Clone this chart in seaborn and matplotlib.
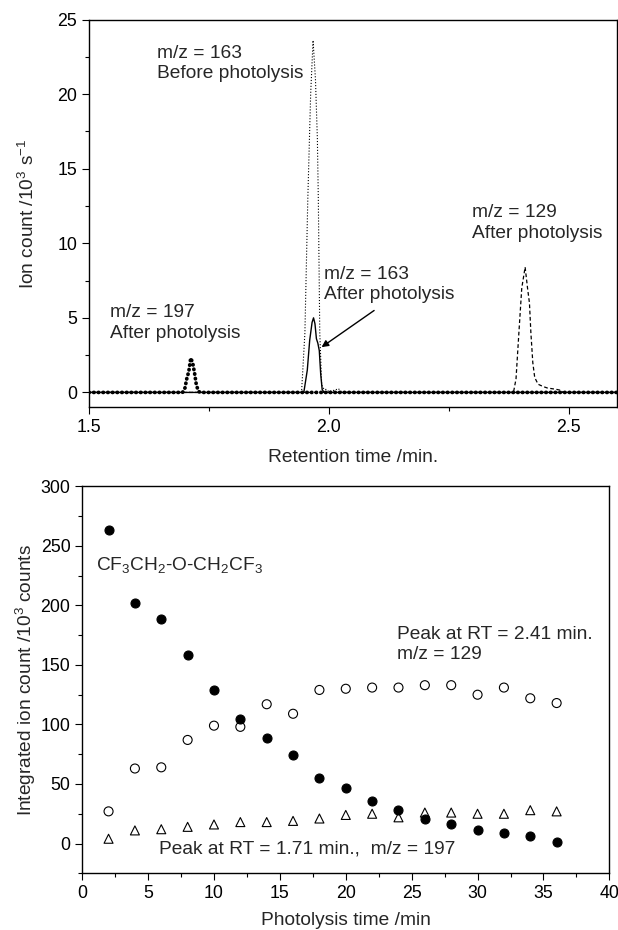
import matplotlib
matplotlib.use("Agg")
import matplotlib.pyplot as plt
from matplotlib.ticker import MultipleLocator
import seaborn as sns

# --- top panel: chromatogram traces (retention time / min, ion count / 10^3 s^-1)
rt_197 = [1.50, 1.695, 1.700, 1.704, 1.708, 1.712, 1.716, 1.720, 1.724, 1.729, 1.733, 2.60]
ion_197 = [0.0, 0.0, 0.3, 0.95, 1.4, 2.3, 2.0, 1.3, 0.45, 0.05, 0.0, 0.0]

rt_163_before = [1.50, 1.943, 1.950, 1.956, 1.962, 1.967, 1.972, 1.976, 1.978, 1.981, 1.985,
                 1.990, 1.995, 2.000, 2.005, 2.012, 2.020, 2.026, 2.030, 2.60]
ion_163_before = [0.0, 0.0, 4.0, 12.9, 20.0, 23.6, 21.0, 17.0, 12.9, 4.0, 0.5,
                  0.2, 0.2, 0.05, 0.1, 0.15, 0.25, 0.05, 0.0, 0.0]

rt_163_after = [1.50, 1.940, 1.948, 1.955, 1.960, 1.965, 1.968, 1.971, 1.974, 1.977, 1.980,
                1.983, 1.986, 1.990, 2.60]
ion_163_after = [0.0, 0.0, 0.05, 1.5, 3.5, 4.7, 5.0, 4.6, 3.6, 3.3, 2.8,
                 1.2, 0.2, 0.0, 0.0]

rt_129 = [1.50, 2.380, 2.385, 2.390, 2.396, 2.402, 2.409, 2.414, 2.418, 2.421, 2.425,
          2.429, 2.436, 2.446, 2.455, 2.465, 2.475, 2.482, 2.490, 2.60]
ion_129 = [0.0, 0.0, 0.05, 0.9, 4.0, 7.0, 8.4, 7.0, 6.0, 4.0, 2.0,
           1.0, 0.55, 0.4, 0.3, 0.25, 0.2, 0.15, 0.0, 0.0]

# --- bottom panel: integrated ion counts vs photolysis time
photolysis_min = [2, 4, 6, 8, 10, 12, 14, 16, 18, 20, 22, 24, 26, 28, 30, 32, 34, 36]
ether_counts = [263, 202, 189, 158, 129, 105, 89, 74, 55, 47, 36, 28, 21, 16, 11, 9, 6, 1]
peak_241_counts = [27, 63, 64, 87, 99, 98, 117, 109, 129, 130, 131, 131, 133, 133, 125, 131, 122, 118]
peak_171_counts = [4, 11, 12, 14, 16, 18, 18, 19, 21, 24, 25, 22, 26, 26, 25, 25, 28, 27]

sns.set_style("ticks")
plt.rcParams["font.family"] = ["Liberation Sans", "DejaVu Sans"]
plt.rcParams["mathtext.fontset"] = "custom"
plt.rcParams["mathtext.rm"] = "Liberation Sans"
plt.rcParams["mathtext.it"] = "Liberation Sans:italic"
plt.rcParams["axes.linewidth"] = 1.0
plt.rcParams["xtick.direction"] = "out"
plt.rcParams["ytick.direction"] = "out"

LABEL_FS = 13.8
TICK_FS = 12.8
NOTE_FS = 13.8

fig = plt.figure(figsize=(6.18, 9.3), dpi=100)
ax1 = fig.add_axes([0.144, 0.562, 0.854, 0.417])
ax2 = fig.add_axes([0.133, 0.061, 0.853, 0.416])

# top panel
sns.lineplot(x=rt_163_before, y=ion_163_before, ax=ax1, color="black", lw=0.8,
             linestyle=":", estimator=None, sort=False)
sns.lineplot(x=rt_129, y=ion_129, ax=ax1, color="black", lw=0.9,
             linestyle=(0, (3, 2)), estimator=None, sort=False)
sns.lineplot(x=rt_163_after, y=ion_163_after, ax=ax1, color="black", lw=1.0,
             estimator=None, sort=False)
sns.lineplot(x=rt_197, y=ion_197, ax=ax1, color="black", lw=2.7,
             linestyle=(0, (0.1, 1.15)), dash_capstyle="round", estimator=None, sort=False)

ax1.set_xlim(1.5, 2.6)
ax1.set_ylim(-1, 25)
ax1.xaxis.set_minor_locator(MultipleLocator(0.25))
ax1.yaxis.set_major_locator(MultipleLocator(5))
ax1.yaxis.set_minor_locator(MultipleLocator(2.5))
ax1.set_xticks([1.5, 2.0, 2.5])
ax1.set_xticklabels(["1.5", "2.0", "2.5"])
ax1.set_xlabel("Retention time /min.", fontsize=LABEL_FS, labelpad=9)
ax1.set_ylabel(r"Ion count /10$^3$ s$^{-1}$", fontsize=LABEL_FS, labelpad=14)

ax1.text(1.642, 23.3, "m/z = 163\nBefore photolysis", fontsize=NOTE_FS,
         va="top", ha="left", linespacing=1.25)
ax1.text(1.543, 5.9, "m/z = 197\nAfter photolysis", fontsize=NOTE_FS,
         va="top", ha="left", linespacing=1.25)
ax1.text(1.990, 8.5, "m/z = 163\nAfter photolysis", fontsize=NOTE_FS,
         va="top", ha="left", linespacing=1.25)
ax1.text(2.298, 12.6, "m/z = 129\nAfter photolysis", fontsize=NOTE_FS,
         va="top", ha="left", linespacing=1.25)
ax1.annotate("", xy=(1.980, 2.93), xytext=(2.099, 5.6),
             arrowprops=dict(arrowstyle="-|>", color="black", lw=1.0, mutation_scale=10))

# bottom panel
marker_kw = dict(s=42, edgecolor="black", linewidth=0.8, legend=False)
sns.scatterplot(x=photolysis_min, y=ether_counts, ax=ax2, marker="o",
                color="black", **marker_kw)
sns.scatterplot(x=photolysis_min, y=peak_241_counts, ax=ax2, marker="o",
                facecolor="none", **marker_kw)
sns.scatterplot(x=photolysis_min, y=peak_171_counts, ax=ax2, marker="^",
                facecolor="none", **marker_kw)

ax2.set_xlim(0, 40)
ax2.set_ylim(-25, 300)
ax2.xaxis.set_major_locator(MultipleLocator(5))
ax2.xaxis.set_minor_locator(MultipleLocator(2.5))
ax2.yaxis.set_major_locator(MultipleLocator(50))
ax2.yaxis.set_minor_locator(MultipleLocator(25))
ax2.set_xlabel("Photolysis time /min", fontsize=LABEL_FS, labelpad=7)
ax2.set_ylabel(r"Integrated ion count /10$^3$ counts", fontsize=LABEL_FS, labelpad=2)

ax2.text(1.05, 233.6, r"CF$_3$CH$_2$-O-CH$_2$CF$_3$", fontsize=NOTE_FS,
         va="center", ha="left")
ax2.text(23.9, 183, "Peak at RT = 2.41 min.\nm/z = 129", fontsize=NOTE_FS,
         va="top", ha="left", linespacing=1.25)
ax2.text(5.83, -4.7, "Peak at RT = 1.71 min.,  m/z = 197", fontsize=NOTE_FS,
         va="center", ha="left")

for ax in (ax1, ax2):
    for side in ("top", "right", "left", "bottom"):
        ax.spines[side].set_visible(True)
        ax.spines[side].set_color("black")
        ax.spines[side].set_linewidth(1.0)
    ax.tick_params(which="both", top=False, right=False, colors="black",
                   labelsize=TICK_FS, width=0.8)
    ax.tick_params(which="major", length=5)
    ax.tick_params(which="minor", length=3)

fig.savefig("out.png", dpi=100)
plt.close(fig)
